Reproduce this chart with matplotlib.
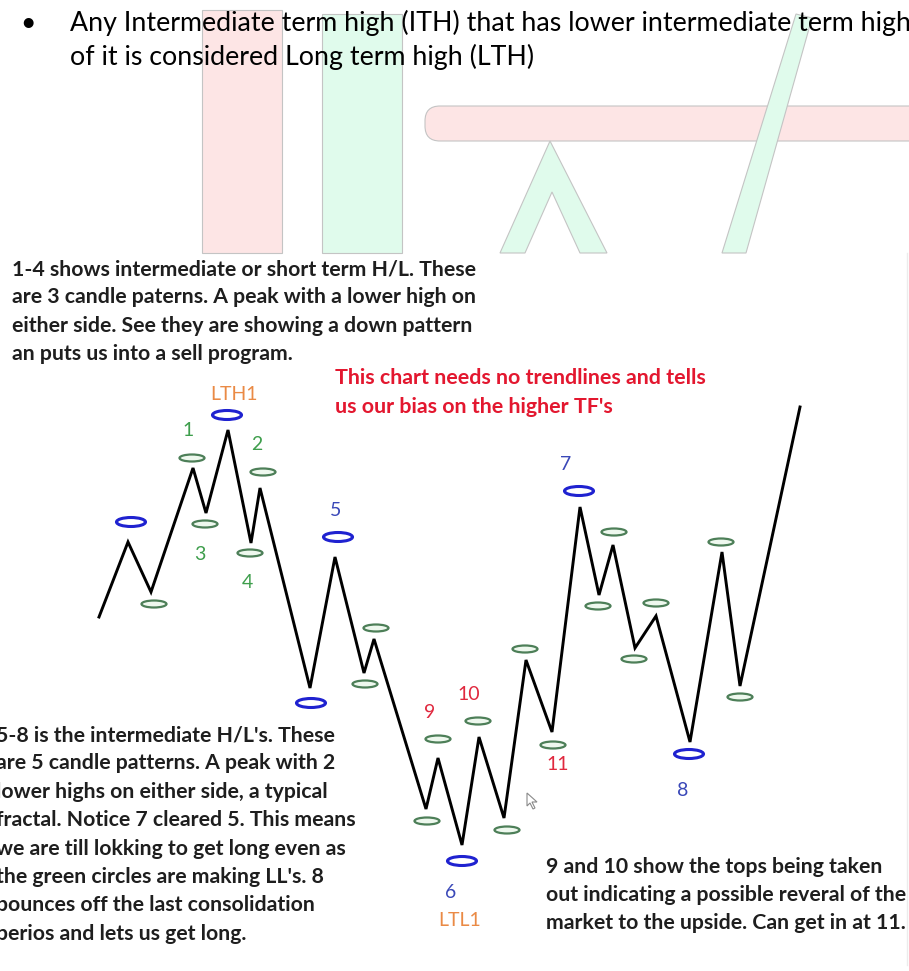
import matplotlib
matplotlib.use('Agg')
import matplotlib.pyplot as plt
from matplotlib.patches import Ellipse, Polygon, Rectangle, FancyBboxPatch

W, H = 909, 971

# zigzag swing points (x, level in screen px)
swing_x = [99, 128, 151, 193, 206, 228, 251, 260, 310, 335, 364, 374, 426, 438,
           462, 479, 504, 526, 552, 580, 599, 613, 635, 656, 690, 722, 740, 800]
swing_y = [617, 542, 592, 468, 513, 430, 543, 488, 688, 557, 673, 639, 809, 758,
           845, 737, 818, 660, 732, 507, 595, 545, 648, 616, 742, 552, 686, 407]

# intermediate H/L markers (blue) and short term markers (green)
blue_x = [131, 227, 338, 311, 462, 579, 689]
blue_y = [522, 415, 537, 703, 861, 491, 754]
green_x = [154, 192, 205, 263, 250, 365, 376, 427, 438, 478, 507, 525, 553, 598, 614, 634, 656, 721, 740]
green_y = [604, 458, 524, 472, 553, 684, 628, 821, 739, 721, 830, 649, 745, 606, 532, 659, 603, 542, 697]

label_text = ['LTH1', '1', '2', '3', '4', '5', '7', '9', '10', '11', '6', 'LTL1', '8']
label_x = [234, 188, 257, 200, 247, 336, 566, 430, 469, 558, 451, 460, 683]
label_y = [395, 430, 445, 554, 582, 510, 464, 712, 695, 765, 892, 921, 791]
label_kind = ['o', 'g', 'g', 'g', 'g', 'b', 'b', 'r', 'r', 'r', 'b', 'o', 'b']

header_lines = ['Any Intermediate term high (ITH) that has lower intermediate term high',
                'of it is considered Long term high (LTH)']
note1_lines = ['1-4 shows intermediate or short term H/L. These',
               'are 3 candle paterns. A peak with a lower high on',
               'either side. See they are showing a down pattern',
               'an puts us into a sell program.']
red_lines = ['This chart needs no trendlines and tells',
             "us our bias on the higher TF's"]
note2_lines = ["5-8 is the intermediate H/L's. These",
               'are 5 candle patterns. A peak with 2',
               'lower highs on either side, a typical',
               'fractal. Notice 7 cleared 5. This means',
               'we are till lokking to get long even as',
               "the green circles are making LL's. 8",
               'bounces off the last consolidation',
               'perios and lets us get long.']
note3_lines = ['9 and 10 show the tops being taken',
               'out indicating a possible reveral of the',
               'market to the upside. Can get in at 11.']

label_colors = {'o': '#ea8a45', 'g': '#3e9e4c', 'b': '#3a48b8', 'r': '#e0283e'}
FONT = 'Lato'
TXT = '#1e1e1e'

fig = plt.figure(figsize=(W / 100, H / 100), dpi=100)
ax = fig.add_axes([0, 0, 1, 1])
ax.set_xlim(0, W)
ax.set_ylim(H, 0)
ax.axis('off')
renderer = fig.canvas.get_renderer()


def fit_size(text, width, weight='normal'):
    t = ax.text(0, 0, text, fontsize=20, family=FONT, fontweight=weight)
    w = t.get_window_extent(renderer=renderer).width
    t.remove()
    return 20 * width / w


def draw_lines(lines, x, y0, step, size, weight='normal', color=TXT):
    for i, line in enumerate(lines):
        ax.text(x, y0 + i * step, line, fontsize=size, family=FONT, fontweight=weight,
                color=color, va='baseline', ha='left')


# background slide shapes (faded)
pink, green, edge = '#fde5e5', '#e0fbec', '#c4c4c4'
ax.add_patch(Rectangle((202, 10), 80, 243, fc=pink, ec=edge, lw=0.8, zorder=1))
ax.add_patch(Rectangle((322, 14), 80, 239, fc=green, ec=edge, lw=0.8, zorder=1))
ax.add_patch(FancyBboxPatch((425, 106), 600, 35, boxstyle='round,pad=0,rounding_size=15',
                            fc=pink, ec=edge, lw=0.8, zorder=1))
ax.add_patch(Polygon([(500, 253), (550, 141), (607, 253), (580, 253), (552, 192), (525, 253)],
                     closed=True, fc=green, ec=edge, lw=0.8, zorder=2))
ax.add_patch(Polygon([(796, 14), (812, 18), (746, 253), (722, 253)],
                     closed=True, fc=green, ec=edge, lw=0.8, zorder=2))
ax.plot([907, 907], [253, 965], color='#ececec', lw=1, zorder=1)

# header bullet text
hs = fit_size(header_lines[1], 463)
ax.text(28, 24, '\u2022', fontsize=hs, family=FONT, color='black', ha='center', va='center', zorder=5)
draw_lines(header_lines, 70, 31, 34, hs, color='black')

# chart
ax.plot(swing_x, swing_y, color='black', lw=2.1, zorder=3, solid_joinstyle='miter')
for x, y in zip(blue_x, blue_y):
    ax.add_patch(Ellipse((x, y), 29, 9, fc='white', ec='#1f22d0', lw=2.2, zorder=4))
for x, y in zip(green_x, green_y):
    ax.add_patch(Ellipse((x, y), 25, 7, fc='#eef8ee', ec='#4d7f58', lw=1.6, zorder=4))

for t, x, y, k in zip(label_text, label_x, label_y, label_kind):
    ax.text(x, y, t, fontsize=14, family=FONT, color=label_colors[k], ha='center', va='center', zorder=5)

# mouse cursor left in the screenshot
ax.add_patch(Polygon([(527, 793), (527, 806), (530, 803), (533, 809), (535, 808), (532, 802), (537, 802)],
                     closed=True, fc='white', ec='#8a8a8a', lw=0.8, zorder=5))

# notes
s1 = fit_size(note1_lines[0], 465, 'bold')
draw_lines(note1_lines, 12, 275, 28.4, s1, 'bold')
sr = fit_size(red_lines[0], 370, 'bold')
draw_lines(red_lines, 335, 384, 29, sr, 'bold', color='#e3172f')
s2 = fit_size(note2_lines[0], 340, 'bold')
draw_lines(note2_lines, -4, 741, 28.4, s2, 'bold')
s3 = fit_size(note3_lines[0], 337, 'bold')
draw_lines(note3_lines, 546, 873, 28.1, s3, 'bold')

fig.savefig('out.png', dpi=100, facecolor='white')
